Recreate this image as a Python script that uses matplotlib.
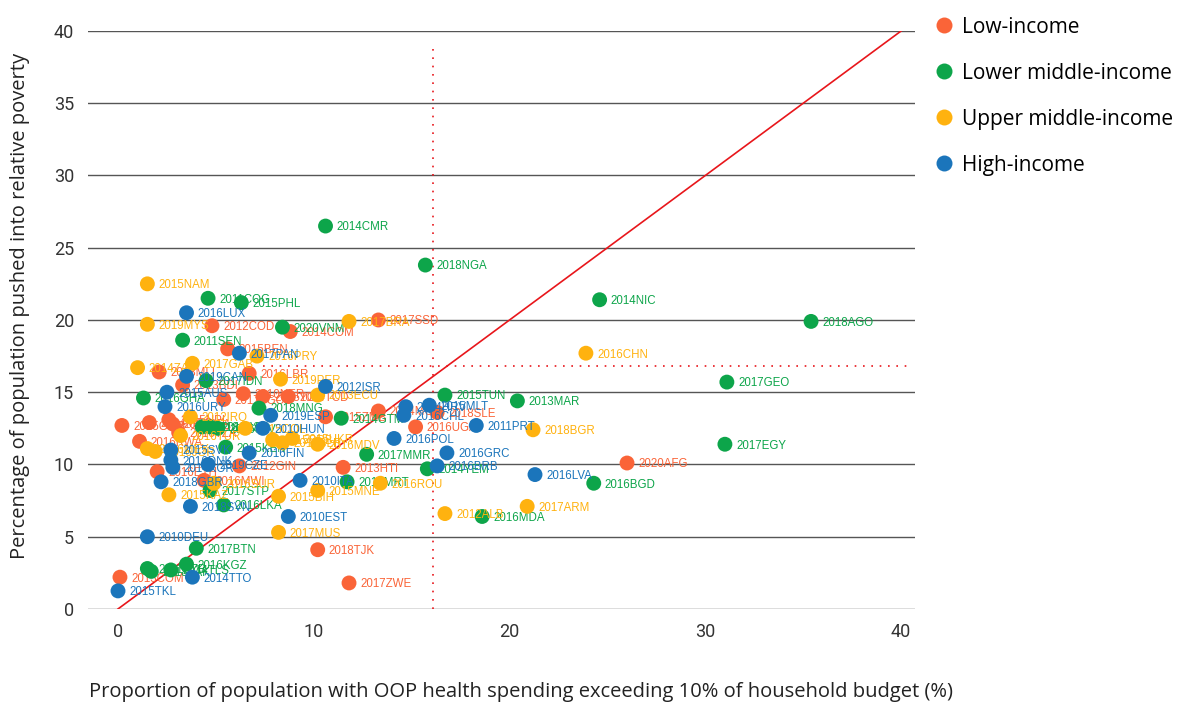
import matplotlib
matplotlib.use("Agg")
import matplotlib.pyplot as plt
from matplotlib.lines import Line2D

# income group colours
colors = {
    "Low-income": "#FA6438",
    "Lower middle-income": "#0DA54A",
    "Upper middle-income": "#FFB20F",
    "High-income": "#1B75BB",
}

# Low-income
low_labels = ["2012COD", "2014COM", "2017SSD", "2015BEN", "2018MLI", "2016LBR", "2013BDI",
              "2017TGO", "2010NER", "2015TGO", "2014TCD", "2015ZMB", "2014MOZ", "2018SLE",
              "2016UGA", "2015GMB", "2014MDG", "2015NPL", "2014BFA", "2016TZA", "2016RWA",
              "2016ETH", "2016MWI", "2012GIN", "2013HTI", "2020AFG", "2018TJK", "2017ZWE",
              "2013COM"]
low_x = [4.8, 8.8, 13.3, 5.6, 2.1, 6.7, 3.3, 5.4, 6.4, 7.4, 8.7, 10.6, 13.3, 16.3,
         15.2, 0.2, 1.6, 2.6, 2.8, 3.1, 1.1, 2.0, 4.4, 6.2, 11.5, 26.0, 10.2, 11.8, 0.1]
low_y = [19.6, 19.2, 20.0, 18.0, 16.4, 16.3, 15.5, 14.5, 14.9, 14.7, 14.7, 13.3, 13.7, 13.6,
         12.6, 12.7, 12.9, 13.1, 12.8, 12.2, 11.6, 9.5, 8.9, 9.9, 9.8, 10.1, 4.1, 1.8, 2.2]

# Lower middle-income
lmi_labels = ["2014CMR", "2018NGA", "2014NIC", "2011COG", "2015PHL", "2020VNM", "2018AGO",
              "2011SEN", "2017IDN", "2017GEO", "2016GHA", "2015TUN", "2013MAR", "2018MNG",
              "2014GTM", "2018CIV", "2015LSO", "2016SLV", "2017EGY", "2015KEN", "2017MMR",
              "2014YEM", "2016BGD", "2014MRT", "2017STP", "2016LKA", "2016MDA", "2017BTN",
              "2016KGZ", "2014TLS", "2011UZB", "2018PAK"]
lmi_x = [10.6, 15.7, 24.6, 4.6, 6.3, 8.4, 35.4, 3.3, 4.5, 31.1, 1.3, 16.7, 20.4, 7.2,
         11.4, 4.3, 4.7, 5.1, 31.0, 5.5, 12.7, 15.8, 24.3, 11.7, 4.7, 5.4, 18.6, 4.0,
         3.5, 2.7, 1.5, 1.7]
lmi_y = [26.5, 23.8, 21.4, 21.5, 21.2, 19.5, 19.9, 18.6, 15.8, 15.7, 14.6, 14.8, 14.4, 13.9,
         13.2, 12.6, 12.6, 12.5, 11.4, 11.2, 10.7, 9.7, 8.7, 8.8, 8.2, 7.2, 6.4, 4.2,
         3.1, 2.7, 2.8, 2.6]

# Upper middle-income
umi_labels = ["2015NAM", "2019MYS", "2017BRA", "2016PRY", "2016CHN", "2014ZAF", "2017GAB",
              "2019PER", "2013ECU", "2012IRQ", "2018BGR", "2016TUR", "2015COL", "2016MEX",
              "2016JOR", "2015SRB", "2015BLR", "2015UKR", "2016MDV", "2016SUR", "2015KAZ",
              "2015MNE", "2016ROU", "2015BIH", "2017MUS", "2012ALB", "2017ARM"]
umi_x = [1.5, 1.5, 11.8, 7.1, 23.9, 1.0, 3.8, 8.3, 10.2, 3.7, 21.2, 3.2, 6.5, 1.5,
         1.9, 7.9, 8.4, 8.9, 10.2, 4.9, 2.6, 10.2, 13.4, 8.2, 8.2, 16.7, 20.9]
umi_y = [22.5, 19.7, 19.9, 17.5, 17.7, 16.7, 17.0, 15.9, 14.8, 13.3, 12.4, 12.0, 12.5, 11.1,
         10.9, 11.7, 11.5, 11.8, 11.4, 8.7, 7.9, 8.2, 8.7, 7.8, 5.3, 6.6, 7.1]

# High-income
hi_labels = ["2016LUX", "2017PAN", "2019CAN", "2012ISR", "2015AUS", "2016URY", "2019ESP",
             "2015MLT", "2014HRV", "2016CHL", "2010HUN", "2011PRT", "2016POL", "2016GRC",
             "2016BRB", "2016LVA", "2015SVK", "2016DNK", "2014KOR", "2019CZE", "2016FIN",
             "2018GBR", "2018SVN", "2010ITA", "2010EST", "2010DEU", "2014TTO", "2015TKL"]
hi_x = [3.5, 6.2, 3.5, 10.6, 2.5, 2.4, 7.8, 15.9, 14.7, 14.6, 7.4, 18.3, 14.1, 16.8,
        16.3, 21.3, 2.7, 2.7, 2.8, 4.6, 6.7, 2.2, 3.7, 9.3, 8.7, 1.5, 3.8, 0.0]
hi_y = [20.5, 17.7, 16.1, 15.4, 15.0, 14.0, 13.4, 14.1, 14.0, 13.4, 12.5, 12.7, 11.8, 10.8,
        9.9, 9.3, 11.0, 10.3, 9.8, 10.0, 10.8, 8.8, 7.1, 8.9, 6.4, 5.0, 2.2, 1.25]

groups = [
    ("Low-income", low_labels, low_x, low_y),
    ("Lower middle-income", lmi_labels, lmi_x, lmi_y),
    ("Upper middle-income", umi_labels, umi_x, umi_y),
    ("High-income", hi_labels, hi_x, hi_y),
]

# reference lines
diag = [0, 40]
vline_x = 16.1
hline_y = 16.8

fig = plt.figure(figsize=(11.85, 7.04), dpi=100)
ax = fig.add_axes([0.0743, 0.135, 0.6977, 0.821])

ax.set_xlim(-1.53, 40.7)
ax.set_ylim(0, 40)
ax.set_yticks(range(0, 41, 5))
ax.set_xticks([0, 10, 20, 30, 40])
ax.yaxis.grid(True, color="#555555", lw=1.0)
ax.set_axisbelow(True)
for s in ax.spines.values():
    s.set_visible(False)
ax.tick_params(length=0, labelsize=13, labelcolor="#333333", pad=10)
for lab in ax.get_xticklabels() + ax.get_yticklabels():
    lab.set_family("Roboto")

ax.plot(diag, diag, color="#E8161B", lw=1.2, zorder=1)
ax.plot([vline_x, vline_x], [0, 39], color="#E8161B", lw=1.2, ls=(0, (1, 4)), zorder=1)
ax.plot([7.4, 40.5], [hline_y, hline_y], color="#E8161B", lw=1.2, ls=(0, (1, 4)), zorder=1)

z = 2
for name, labels, xs, ys in groups:
    c = colors[name]
    for lab, x, y in zip(labels, xs, ys):
        ax.scatter([x], [y], s=115, color=c, edgecolors="none", zorder=z, clip_on=False)
        ax.annotate(lab, (x, y), xytext=(8, -1), textcoords="offset points",
                    va="center", ha="left", fontsize=8.3, color=c,
                    family="Liberation Sans", zorder=z + 1)
        z += 2

handles = [Line2D([], [], marker="o", ls="", markersize=11.5, color=colors[n],
                  markeredgecolor="none") for n, *_ in groups]
fig.legend(handles, [n for n, *_ in groups], loc="upper left",
           bbox_to_anchor=(0.77, 1.003), frameon=False,
           labelspacing=1.2, handletextpad=0.3, handlelength=1.2,
           prop={"family": "Open Sans", "size": 15})

fig.text(0.017, 0.565, "Percentage of population pushed into relative poverty",
         rotation=90, ha="center", va="center", fontsize=14.5, family="Open Sans", color="#222222")
fig.text(0.44, 0.017, "Proportion of population with OOP health spending exceeding 10% of household budget (%)",
         ha="center", va="center", fontsize=14.5, family="Open Sans", color="#222222")

fig.savefig("out.png", dpi=100)
